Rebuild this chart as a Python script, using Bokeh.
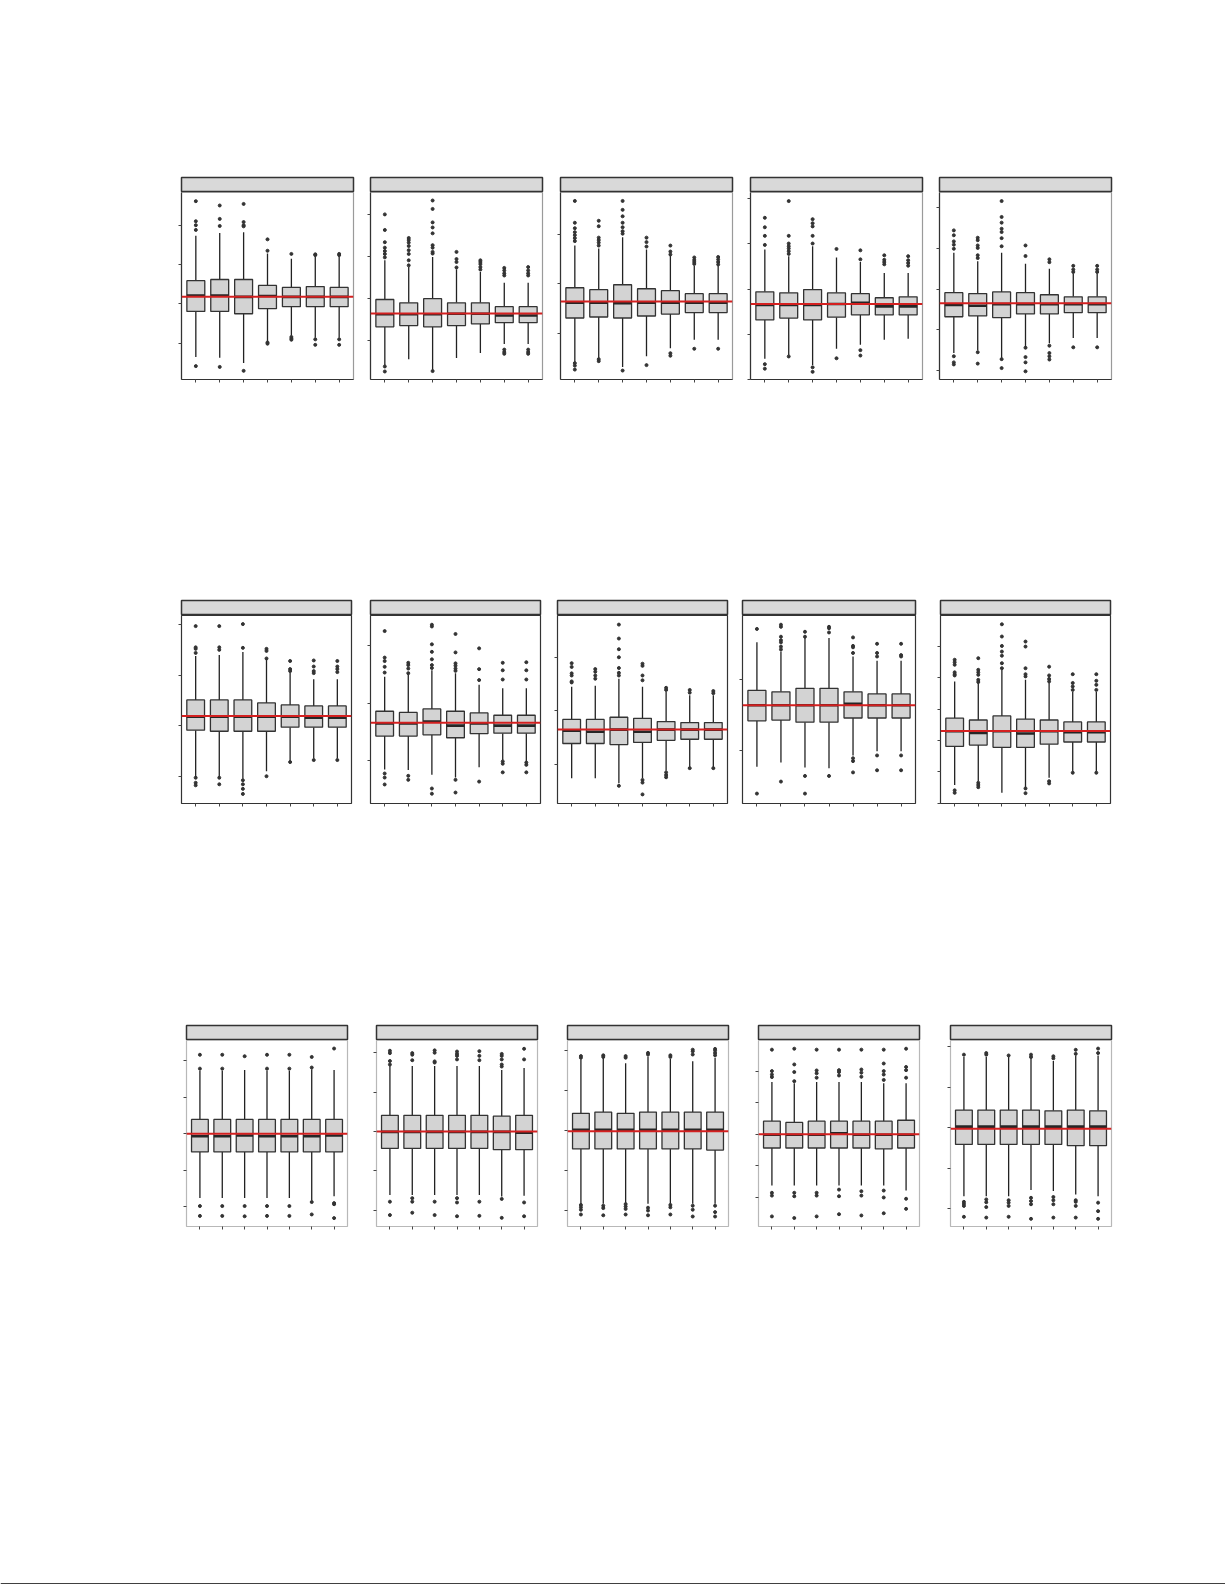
import numpy as np
from bokeh.plotting import figure
from bokeh.models import Span, Spacer, SingleIntervalTicker, FixedTicker, Range1d, CustomLabelingPolicy
from bokeh.layouts import row, column
from bokeh.embed import file_html
from bokeh.resources import INLINE

# ---------------- data (15 panels, 3 rows x 5, 7 groups each) ----------------
groups = [1, 2, 3, 4, 5, 6, 7]

q3 = [
    [0.59, 0.62, 0.62, 0.47, 0.42, 0.44, 0.42],
    [-0.02, -0.10, 0.00, -0.10, -0.10, -0.19, -0.19],
    [-0.08, -0.12, -0.02, -0.10, -0.14, -0.20, -0.20],
    [-0.06, -0.08, -0.01, -0.08, -0.10, -0.19, -0.17],
    [-0.09, -0.11, -0.07, -0.09, -0.14, -0.19, -0.19],
    [0.51, 0.51, 0.51, 0.45, 0.41, 0.39, 0.39],
    [-0.14, -0.16, -0.10, -0.14, -0.17, -0.21, -0.21],
    [-0.16, -0.16, -0.12, -0.14, -0.20, -0.22, -0.22],
    [0.85, 0.83, 0.88, 0.88, 0.83, 0.80, 0.80],
    [-0.29, -0.35, -0.22, -0.32, -0.35, -0.41, -0.41],
    [0.39, 0.39, 0.39, 0.39, 0.39, 0.39, 0.39],
    [0.41, 0.41, 0.41, 0.41, 0.41, 0.39, 0.41],
    [0.43, 0.46, 0.43, 0.46, 0.46, 0.46, 0.46],
    [0.41, 0.37, 0.41, 0.41, 0.41, 0.41, 0.44],
    [0.44, 0.44, 0.44, 0.44, 0.42, 0.44, 0.42],
]

median = [
    [0.21, 0.21, 0.18, 0.20, 0.18, 0.18, 0.18],
    [-0.37, -0.37, -0.37, -0.36, -0.36, -0.40, -0.40],
    [-0.38, -0.38, -0.39, -0.38, -0.38, -0.38, -0.38],
    [-0.35, -0.35, -0.35, -0.33, -0.30, -0.38, -0.38],
    [-0.39, -0.41, -0.37, -0.37, -0.37, -0.37, -0.37],
    [0.18, 0.18, 0.18, 0.18, 0.18, 0.16, 0.16],
    [-0.35, -0.35, -0.32, -0.39, -0.35, -0.39, -0.39],
    [-0.37, -0.39, -0.35, -0.39, -0.35, -0.35, -0.35],
    [0.64, 0.64, 0.64, 0.64, 0.66, 0.64, 0.64],
    [-0.71, -0.76, -0.71, -0.78, -0.71, -0.74, -0.74],
    [-0.07, -0.07, -0.05, -0.07, -0.07, -0.07, -0.05],
    [-0.01, -0.01, -0.01, -0.01, -0.01, -0.01, -0.03],
    [0.02, 0.02, 0.02, 0.02, 0.02, 0.02, 0.02],
    [-0.02, -0.02, -0.02, 0.03, -0.02, -0.02, -0.02],
    [0.03, 0.03, 0.03, 0.03, 0.03, 0.03, 0.03],
]

q1 = [
    [-0.19, -0.19, -0.25, -0.12, -0.07, -0.07, -0.07],
    [-0.67, -0.64, -0.67, -0.64, -0.60, -0.57, -0.57],
    [-0.69, -0.67, -0.69, -0.65, -0.61, -0.58, -0.58],
    [-0.68, -0.64, -0.68, -0.62, -0.57, -0.57, -0.57],
    [-0.68, -0.66, -0.70, -0.61, -0.61, -0.58, -0.58],
    [-0.09, -0.11, -0.11, -0.11, -0.03, -0.03, -0.03],
    [-0.57, -0.57, -0.55, -0.60, -0.53, -0.52, -0.52],
    [-0.61, -0.61, -0.63, -0.59, -0.55, -0.53, -0.53],
    [0.42, 0.43, 0.40, 0.40, 0.46, 0.46, 0.46],
    [-1.19, -1.15, -1.22, -1.22, -1.12, -1.05, -1.05],
    [-0.50, -0.50, -0.50, -0.50, -0.50, -0.50, -0.50],
    [-0.43, -0.43, -0.43, -0.43, -0.43, -0.46, -0.46],
    [-0.46, -0.46, -0.46, -0.46, -0.46, -0.46, -0.49],
    [-0.44, -0.44, -0.44, -0.44, -0.44, -0.47, -0.44],
    [-0.41, -0.41, -0.41, -0.41, -0.41, -0.44, -0.44],
]

whisker_hi = [
    [1.73, 1.80, 1.82, 1.28, 1.15, 1.21, 1.21],
    [0.91, 0.75, 0.99, 0.70, 0.63, 0.38, 0.38],
    [0.77, 0.71, 0.94, 0.69, 0.57, 0.36, 0.36],
    [0.88, 0.73, 0.95, 0.70, 0.60, 0.36, 0.36],
    [0.89, 0.68, 0.89, 0.62, 0.50, 0.38, 0.38],
    [1.38, 1.40, 1.46, 1.32, 1.04, 0.92, 0.92],
    [0.46, 0.50, 0.57, 0.52, 0.32, 0.26, 0.26],
    [0.45, 0.47, 0.60, 0.45, 0.35, 0.29, 0.29],
    [1.53, 1.40, 1.59, 1.59, 1.33, 1.27, 1.27],
    [0.88, 0.83, 1.25, 0.93, 0.83, 0.54, 0.54],
    [1.72, 1.72, 1.74, 1.72, 1.72, 1.76, 1.74],
    [1.66, 1.66, 1.66, 1.66, 1.66, 1.56, 1.61],
    [1.78, 1.81, 1.68, 1.85, 1.79, 1.73, 1.82],
    [1.65, 1.61, 1.65, 1.65, 1.65, 1.61, 1.61],
    [1.75, 1.75, 1.75, 1.70, 1.65, 1.79, 1.79],
]

whisker_lo = [
    [-1.35, -1.37, -1.50, -0.97, -0.81, -0.86, -0.86],
    [-1.59, -1.44, -1.71, -1.41, -1.29, -1.08, -1.08],
    [-1.58, -1.50, -1.68, -1.46, -1.30, -1.13, -1.13],
    [-1.54, -1.46, -1.68, -1.32, -1.23, -1.12, -1.10],
    [-1.57, -1.51, -1.70, -1.43, -1.33, -1.20, -1.20],
    [-1.02, -1.02, -1.05, -0.90, -0.70, -0.65, -0.65],
    [-1.15, -1.16, -1.24, -1.29, -1.11, -0.99, -1.02],
    [-1.26, -1.26, -1.35, -1.26, -1.12, -1.06, -1.06],
    [-0.23, -0.17, -0.24, -0.25, -0.07, -0.01, -0.01],
    [-2.42, -2.30, -2.67, -2.51, -2.19, -2.00, -2.00],
    [-1.76, -1.76, -1.76, -1.76, -1.76, -1.83, -1.71],
    [-1.61, -1.61, -1.61, -1.61, -1.61, -1.65, -1.63],
    [-1.83, -1.83, -1.83, -1.83, -1.83, -1.83, -1.83],
    [-1.63, -1.63, -1.63, -1.63, -1.63, -1.63, -1.79],
    [-1.69, -1.69, -1.69, -1.54, -1.56, -1.65, -1.69],
]

outliers = [
    [[2.61, 2.10, 2.00, 1.88, -1.58], [2.50, 2.16, 1.98, -1.60], [2.54, 2.08, 2.00, 1.97, -1.70],
     [1.64, 1.35, -0.98, -1.01], [1.27, -0.84, -0.88, -0.91], [1.24, 1.26, -0.90, -1.04], [1.24, 1.27, -0.90, -1.04]],
    [[2.00, 1.63, 1.34, 1.21, 1.13, 1.06, 0.98, -1.61, -1.73], [1.44, 1.39, 1.33, 1.25, 1.15, 1.06, 0.91, 0.79],
     [2.33, 2.13, 1.81, 1.69, 1.55, 1.27, 1.21, 1.11, 1.07, -1.72], [1.11, 0.94, 0.87, 0.74],
     [0.91, 0.87, 0.82, 0.75, 0.69], [0.73, 0.67, 0.60, 0.55, -1.21, -1.27, -1.31], [0.75, 0.67, 0.60, 0.55, -1.21, -1.27, -1.31]],
    [[1.67, 1.23, 1.12, 1.04, 0.98, 0.92, 0.86, -1.60, -1.65, -1.73], [1.27, 1.16, 0.93, 0.88, 0.83, 0.77, -1.52, -1.56],
     [1.67, 1.49, 1.36, 1.23, 1.14, 1.06, 1.01, -1.75], [0.93, 0.84, 0.75, -1.64], [0.77, 0.65, 0.59, -1.40, -1.45],
     [0.53, 0.48, 0.44, 0.40, -1.31], [0.54, 0.49, 0.44, 0.39, -1.31]],
    [[1.58, 1.37, 1.18, 0.98, -1.66, -1.76], [1.95, 1.18, 1.01, 0.95, 0.90, 0.84, 0.78, -1.49],
     [1.55, 1.46, 1.39, 1.18, 1.01, -1.73, -1.83], [0.89, -1.53], [0.86, 0.66, -1.35, -1.47],
     [0.75, 0.65, 0.60, 0.55], [0.73, 0.64, 0.58, 0.52]],
    [[1.44, 1.32, 1.17, 1.09, 0.99, -1.65, -1.80, -1.85], [1.26, 1.20, 1.07, 1.01, 0.83, 0.76, -1.55, -1.83],
     [2.16, 1.77, 1.63, 1.48, 1.40, 1.25, 1.05, -1.72, -1.94], [1.07, 0.81, -1.44, -1.67, -1.80, -2.02],
     [0.73, 0.66, -1.39, -1.57, -1.65, -1.73], [0.57, 0.48, 0.42, -1.43], [0.57, 0.48, 0.42, -1.43]],
    [[1.97, 1.55, 1.52, 1.44, -1.03, -1.13, -1.18], [1.97, 1.55, 1.50, -1.03, -1.16],
     [2.01, 1.54, -1.08, -1.16, -1.25, -1.35], [1.52, 1.48, 1.33, -1.00], [1.28, 1.12, 1.08, -0.72],
     [1.29, 1.17, 1.08, 1.04, -0.68], [1.28, 1.17, 1.12, 1.06, -0.68]],
    [[1.25, 0.79, 0.73, 0.63, 0.53, -1.22, -1.29, -1.41], [0.70, 0.66, 0.60, 0.52, -1.26, -1.33],
     [1.36, 1.33, 1.02, 0.89, 0.76, 0.66, 0.61, -1.48, -1.57], [1.20, 0.88, 0.69, 0.65, 0.60, 0.56, -1.33, -1.55],
     [0.95, 0.59, 0.40, -1.36], [0.70, 0.57, 0.41, -1.01, -1.05, -1.20], [0.71, 0.57, 0.41, -1.03, -1.07, -1.20]],
    [[0.89, 0.82, 0.70, 0.66, 0.55, 0.53], [0.78, 0.73, 0.66, 0.60],
     [1.61, 1.35, 1.15, 1.00, 0.80, 0.71, 0.66, -1.40], [0.88, 0.84, 0.66, 0.57, -1.29, -1.34, -1.56],
     [0.43, 0.39, -1.15, -1.20, -1.24], [0.39, 0.34, -1.07], [0.37, 0.33, -1.07]],
    [[1.72, -0.61], [1.78, 1.75, 1.61, 1.56, 1.53, 1.47, 1.43, -0.44], [1.68, 1.61, -0.36, -0.61],
     [1.75, 1.73, 1.67, -0.36], [1.60, 1.48, 1.46, 1.38, -0.11, -0.15, -0.31],
     [1.51, 1.38, 1.33, -0.07, -0.28], [1.51, 1.35, 1.33, -0.07, -0.28]],
    [[1.57, 1.49, 1.41, 1.17, 1.11, 1.07, -2.59, -2.67], [1.62, 1.25, 1.17, 1.09, 0.93, 0.86, -2.35, -2.42, -2.49],
     [2.70, 2.31, 2.01, 1.83, 1.70, 1.46, 1.30], [2.15, 1.99, 1.30, 1.11, 1.04, -2.53, -2.68],
     [1.35, 1.07, 0.96, 0.88, -2.30, -2.37], [1.11, 0.83, 0.72, 0.61, -2.03], [1.11, 0.90, 0.77, 0.61, -2.03]],
    [[2.16, 1.78, -1.98, -2.25], [2.16, 1.78, -1.98, -2.25], [2.12, -1.98, -2.26], [2.16, 1.78, -1.98, -2.25],
     [2.16, 1.78, -1.98, -2.25], [2.10, 1.81, -1.87, -2.21], [2.33, -1.90, -1.93, -2.31]],
    [[2.05, 1.99, 1.79, 1.70, -1.78, -2.12], [1.99, 1.95, 1.81, -1.69, -1.78, -2.06],
     [2.06, 2.00, 1.78, 1.75, -1.78, -2.12], [2.03, 1.97, 1.92, 1.83, -1.69, -1.80, -2.15],
     [2.04, 1.92, 1.81, -1.78, -2.14], [1.97, 1.92, 1.83, 1.70, 1.65, -1.71, -2.19], [2.10, 1.83, -1.80, -2.15]],
    [[1.86, 1.82, -1.86, -1.92, -1.98, -2.10], [1.88, 1.84, -1.88, -1.94, -2.12],
     [1.86, 1.82, -1.84, -1.90, -1.96, -2.10], [1.94, 1.90, -1.93, -2.00, -2.12],
     [1.88, 1.84, -1.86, -1.92, -2.10], [2.02, 1.98, 1.90, -1.88, -1.98, -2.15],
     [2.04, 2.00, 1.94, 1.88, -1.88, -2.04, -2.15]],
    [[2.68, 2.00, 1.89, 1.81, -1.86, -1.95, -2.61], [2.71, 2.21, 1.97, 1.68, -1.86, -1.97, -2.66],
     [2.68, 2.02, 1.93, 1.79, -1.86, -1.95, -2.61], [2.68, 2.03, 1.97, 1.86, -1.76, -1.97, -2.54],
     [2.68, 2.05, 1.95, 1.82, -1.81, -1.95, -2.58], [2.68, 2.24, 2.00, 1.89, 1.72, -1.79, -2.01, -2.51],
     [2.71, 2.13, 2.03, 1.79, -2.05, -2.37]],
    [[1.81, -1.83, -1.88, -1.93, -2.20], [1.85, 1.81, -1.77, -1.84, -1.96, -2.22],
     [1.79, -1.79, -1.85, -1.93, -2.20], [1.81, 1.75, -1.73, -1.81, -1.89, -2.25],
     [1.77, 1.72, -1.71, -1.79, -1.89, -2.22], [1.93, 1.83, -1.79, -1.83, -1.93, -2.22],
     [1.96, 1.85, -1.85, -2.06, -2.25]],
]

reference = [0.18, -0.35, -0.36, -0.33, -0.35,
             0.19, -0.34, -0.35, 0.64, -0.70,
             0.00, 0.00, -0.02, 0.00, -0.02]

y_limits = [(-1.92, 2.83), (-1.92, 2.52), (-1.93, 1.84), (-2.00, 2.14), (-2.22, 2.37),
            (-1.54, 2.18), (-1.74, 1.52), (-1.73, 1.78), (-0.75, 1.91), (-3.01, 2.98),
            (-2.54, 2.55), (-2.41, 2.31), (-2.40, 2.25), (-2.93, 2.97), (-2.44, 2.16)]

# ---------------- layout constants ----------------
ROW_LEFTS = [[178, 367, 557, 747, 936],
             [178, 367, 554, 742, 937],
             [183, 373, 564, 755, 947]]
ROW_W = [175, 173, 164]
ROW_H = [187, 188, 186]
ROW_OUTLINE = ["#9a9a9a", "#333333", "#b8b8b8"]
ROW_SPINE = ["#333333", None, None]
BL = 10   # left border (tick area)
BR = 2
BB = 10

NO_LABELS = "for (const i of Array.from(indices)) { indices.unset(i) }\nreturn indices"


def panel(i, W, H, outline, spine):
    xs = np.array(groups, dtype=float)
    p = figure(width=BL + W + BR, height=H + BB, title=None,
               x_range=Range1d(0.4, 7.6), y_range=Range1d(*y_limits[i]),
               output_backend="svg", toolbar_location=None,
               min_border_left=BL, min_border_right=BR, min_border_top=0, min_border_bottom=BB)
    p.grid.visible = False
    p.outline_line_color = outline
    p.outline_line_width = 1.2
    p.xaxis.ticker = FixedTicker(ticks=groups)
    p.yaxis.ticker = SingleIntervalTicker(interval=1, num_minor_ticks=0)
    for ax in (p.xaxis, p.yaxis):
        ax.major_label_policy = CustomLabelingPolicy(code=NO_LABELS)
        ax.major_label_text_font_size = "6px"
        ax.major_label_standoff = 0
        ax.major_tick_in = 0
        ax.major_tick_out = 3
        ax.minor_tick_line_color = None
        ax.major_tick_line_color = "#444444"
        ax.axis_line_color = spine
        ax.axis_line_width = 1.2

    c_q3 = np.array(q3[i]); c_q1 = np.array(q1[i]); c_med = np.array(median[i])
    p.segment(x0=xs, y0=c_q3, x1=xs, y1=np.array(whisker_hi[i]), line_color="#222222", line_width=1.3)
    p.segment(x0=xs, y0=c_q1, x1=xs, y1=np.array(whisker_lo[i]), line_color="#222222", line_width=1.3)
    p.vbar(x=xs, width=0.75, top=c_q3, bottom=c_q1, fill_color="#d3d3d3",
           line_color="#333333", line_width=1.3)
    p.segment(x0=xs - 0.375, y0=c_med, x1=xs + 0.375, y1=c_med, line_color="#262626", line_width=2.6)
    ox = [g for g, vals in zip(groups, outliers[i]) for _ in vals]
    oy = [v for vals in outliers[i] for v in vals]
    p.scatter(ox, oy, size=3, marker="circle", fill_color="#333333", line_color="#333333")
    p.add_layout(Span(location=reference[i], dimension="width", line_color="#d42020", line_width=2))
    return p


def strip(W):
    s = figure(width=BL + W + BR, height=16, title=None, x_range=Range1d(0, 1), y_range=Range1d(0, 1),
               x_axis_location=None, y_axis_location=None, output_backend="svg",
               toolbar_location=None, min_border_left=BL, min_border_right=BR,
               min_border_top=1, min_border_bottom=0)
    s.grid.visible = False
    s.background_fill_color = "#d9d9d9"
    s.outline_line_color = "#333333"
    s.outline_line_width = 1.5
    return s


rows = []
for r in range(3):
    W, H = ROW_W[r], ROW_H[r]
    lefts = ROW_LEFTS[r]
    items = [Spacer(width=lefts[0] - BL, height=10)]
    for c in range(5):
        i = r * 5 + c
        items.append(column(strip(W), panel(i, W, H, ROW_OUTLINE[r], ROW_SPINE[r]), spacing=0))
        if c < 4:
            items.append(Spacer(width=lefts[c + 1] - BL - (lefts[c] + W + BR), height=10))
    rows.append(row(*items, spacing=0))

# page-bottom rule
line_fig = figure(width=1225, height=8, title=None, x_range=Range1d(0, 1), y_range=Range1d(0, 1),
                  x_axis_location=None, y_axis_location=None, output_backend="svg",
                  toolbar_location=None, min_border=0)
line_fig.grid.visible = False
line_fig.outline_line_color = None
line_fig.background_fill_color = "white"
line_fig.border_fill_color = "white"
line_fig.add_layout(Span(location=0.5, dimension="width", line_color="black", line_width=2.5))

page = column(Spacer(height=176, width=10), rows[0], Spacer(height=210, width=10), rows[1],
              Spacer(height=211, width=10), rows[2], Spacer(height=340, width=10), line_fig, spacing=0)

open("out.html", "w").write(file_html(page, INLINE))
